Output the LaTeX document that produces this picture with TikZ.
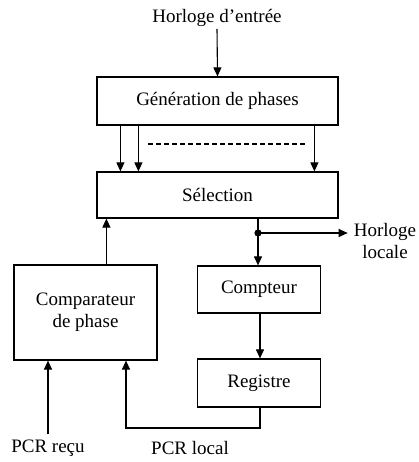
\documentclass[tikz,border=0pt]{standalone}
\usepackage{fontspec}
\setmainfont{Liberation Serif}
\usetikzlibrary{arrows.meta,calc}
\begin{document}
\begin{tikzpicture}[x=1pt,y=-1pt,
  every node/.style={font=\fontsize{19}{22}\selectfont},
  blk/.style={draw,line width=1.2pt,inner sep=0pt,align=center},
  lbl/.style={inner sep=2pt,align=center},
  wire/.style={line width=1.1pt},
  arr/.style={wire,-{Triangle[length=9pt,width=8pt]}}]
\useasboundingbox (0,0) rectangle (418,462);

% blocks
\node[blk,minimum width=241pt,minimum height=48pt] (gen) at (217.5,101) {Génération de phases};
\node[blk,minimum width=241pt,minimum height=46pt] (sel) at (217.5,195) {Sélection};
\node[blk,minimum width=143pt,minimum height=95pt] (comp) at (85.5,312.5) {Comparateur\\de phase};
\node[blk,minimum width=123pt,minimum height=47pt] (cpt) at (259,289.5) {Compteur};
\node[blk,minimum width=123pt,minimum height=48pt] (reg) at (259,383) {Registre};

% labels
\node[lbl] (hin) at (217,18) {Horloge d’entrée};
\node[lbl,inner sep=0pt] (hloc) at (385,241) {Horloge\\locale};
\node[lbl,inner sep=5pt] (pcrr) at (48,448) {PCR reçu};
\node[lbl] (pcrl) at (190,448) {PCR local};

% input clock
\draw[arr] (hin.south) -- (gen.north);

% phase outputs
\draw[arr] ([xshift=24pt]gen.south west) -- ([xshift=24pt]sel.north west);
\draw[arr] ([xshift=42pt]gen.south west) -- ([xshift=42pt]sel.north west);
\draw[arr] ([xshift=218pt]gen.south west) -- ([xshift=218pt]sel.north west);
\coordinate (d1) at (148,144);
\coordinate (d2) at (306,144);
\draw[wire,dash pattern=on 5pt off 3pt] (d1) -- (d2);

% comparator to selection
\draw[arr] ([xshift=93pt]comp.north west) -- ([xshift=93pt]comp.north west |- sel.south);

% local clock
\coordinate (tap) at (258,233);
\draw[wire] (tap |- sel.south) -- (tap);
\draw[arr] (tap) -- (tap |- cpt.north);
\draw[arr,shorten >=6pt] (tap) -- (tap -| hloc.west);
\fill (tap) circle (3.6pt);

% counter to register
\draw[arr] ([xshift=1pt]cpt.south) -- ([xshift=1pt]reg.north);

% local PCR back to the comparator
\coordinate (lp) at (260,428);
\draw[arr] ([xshift=1pt]reg.south) -- (lp) -- ([xshift=40.5pt]comp.south |- lp) -- ([xshift=40.5pt]comp.south);

% received PCR
\draw[arr] (pcrr.north) -- (pcrr.north |- comp.south);
\end{tikzpicture}
\end{document}
